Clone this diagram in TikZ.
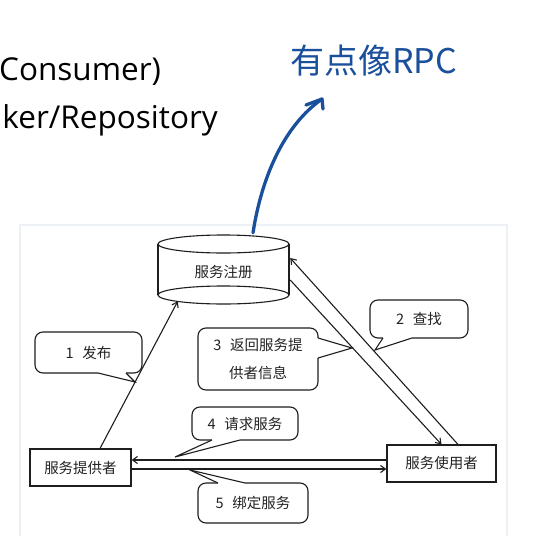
\documentclass[tikz,border=0pt]{standalone}
\usepackage{fontspec}
\setmainfont{Open Sans}
\newfontfamily\cjk{Noto Sans CJK SC}
\usetikzlibrary{arrows.meta,calc}
\definecolor{ink}{HTML}{1E1E1E}
\definecolor{txt}{HTML}{222222}
\definecolor{pen}{HTML}{1A4F9B}
\definecolor{framec}{HTML}{EDF0F4}
\tikzset{
  box/.style={draw=ink, line width=1.1pt, fill=white, minimum height=37pt, inner sep=0pt,
    font=\cjk\fontsize{14.5}{17}\selectfont, text=txt},
  plainlabel/.style={inner sep=0pt, font=\cjk\fontsize{14.5}{17}\selectfont, text=txt},
  bubble/.style={draw=ink, line width=1.1pt, fill=white, rounded corners=8pt, inner sep=0pt,
    font=\cjk\fontsize{14.5}{17}\selectfont, text=txt, align=center},
  link/.style={draw=ink, line width=1.1pt, -{Straight Barb[length=5pt,width=7pt]}},
  tailline/.style={draw=ink, line width=1.1pt, line join=miter},
  cyl/.style={draw=ink, line width=1.1pt},
  bigtext/.style={inner sep=0pt, font=\fontsize{31.5}{31.5}\selectfont, text=black},
  penline/.style={draw=pen, line width=3.3pt, line cap=round, line join=round},
}
\newcommand\calltail[3]{%
  \fill[white] #1 -- #2 -- #3 -- cycle;
  \draw[white, line width=2.2pt] #1 -- #3;
  \draw[tailline] #1 -- #2 -- #3;}
\begin{document}
\begin{tikzpicture}[x=1pt,y=-1pt]
\useasboundingbox (0,0) rectangle (547,536);
\fill[white] (0,0) rectangle (547,536);

% top-left slide text
\node[bigtext, anchor=base west] (t1) at (-1,80) {Consumer)};
\node[bigtext, anchor=base east] (t2) at (218,128) {ker/Repository};

% faint frame of the scanned figure
\draw[framec, line width=1.5pt] (20,225) rectangle (507,545);

% handwritten note
\node[anchor=west, inner sep=0pt, text=pen, font=\cjk\fontsize{34}{34}\selectfont] (note) at (290,61) {有点像RPC};

% registry cylinder
\node[plainlabel, minimum width=131pt, minimum height=60pt] (reg) at (223.5,272) {服务注册};
\draw[cyl] (223.5,295) ellipse [x radius=65.5pt, y radius=9pt];
\draw[cyl] (158,244) -- (158,295) (289,244) -- (289,295);
\draw[cyl, fill=white] (223.5,244) ellipse [x radius=65.5pt, y radius=9pt];

% blue pen arrow
\coordinate (penstart) at ($(reg.north)+(29.5,-9)$);
\coordinate (pentip) at (322,99);
\draw[penline] (penstart) .. controls (262,175) and (285,125) .. (pentip);
\draw[penline] (306,105) -- (pentip) -- (323,109);

% provider / consumer boxes
\node[box, minimum width=101pt] (prov) at (80.5,467.5) {服务提供者};
\node[box, minimum width=109pt] (cons) at (441.5,463.5) {服务使用者};

% connectors
\draw[link] ($(prov.north)+(19.5,0)$) -- ($(reg.south west)+(20,-1)$);
\draw[link] ($(cons.north)+(16.5,0)$) -- ($(reg.east)+(1,-14)$);
\draw[link] ($(reg.east)+(1,8)$) -- (cons.north);
\draw[link] ($(cons.west)+(0,-3.5)$) -- ($(prov.east)+(0,-7.5)$);
\draw[link] ($(prov.east)+(0,1.5)$) -- ($(cons.west)+(0,5.5)$);

% callouts
\node[bubble, minimum width=107pt, minimum height=41pt] (c1) at (88.5,352.5) {1\hspace{0.6em}发布};
\calltail{(98,373)}{(135,382)}{(126,373)}

\node[bubble, minimum width=98pt, minimum height=38pt] (c2) at (419,319) {2\hspace{0.6em}查找};
\calltail{(383,338)}{(375,350)}{(412,338)}

\node[bubble, minimum width=120pt, minimum height=62pt, font=\cjk\fontsize{14.5}{28}\selectfont] (c3) at (258,359) {3\hspace{0.6em}返回服务提\\供者信息};
\calltail{(318,338)}{(352,348)}{(318,358)}

\node[bubble, minimum width=106pt, minimum height=33pt] (c4) at (245,423.5) {4\hspace{0.6em}请求服务};
\calltail{(212,440)}{(175,457)}{(240,440)}

\node[bubble, minimum width=110pt, minimum height=40pt] (c5) at (253,503) {5\hspace{0.6em}绑定服务};
\calltail{(218,483)}{(190,470)}{(245,483)}
\end{tikzpicture}
\end{document}
